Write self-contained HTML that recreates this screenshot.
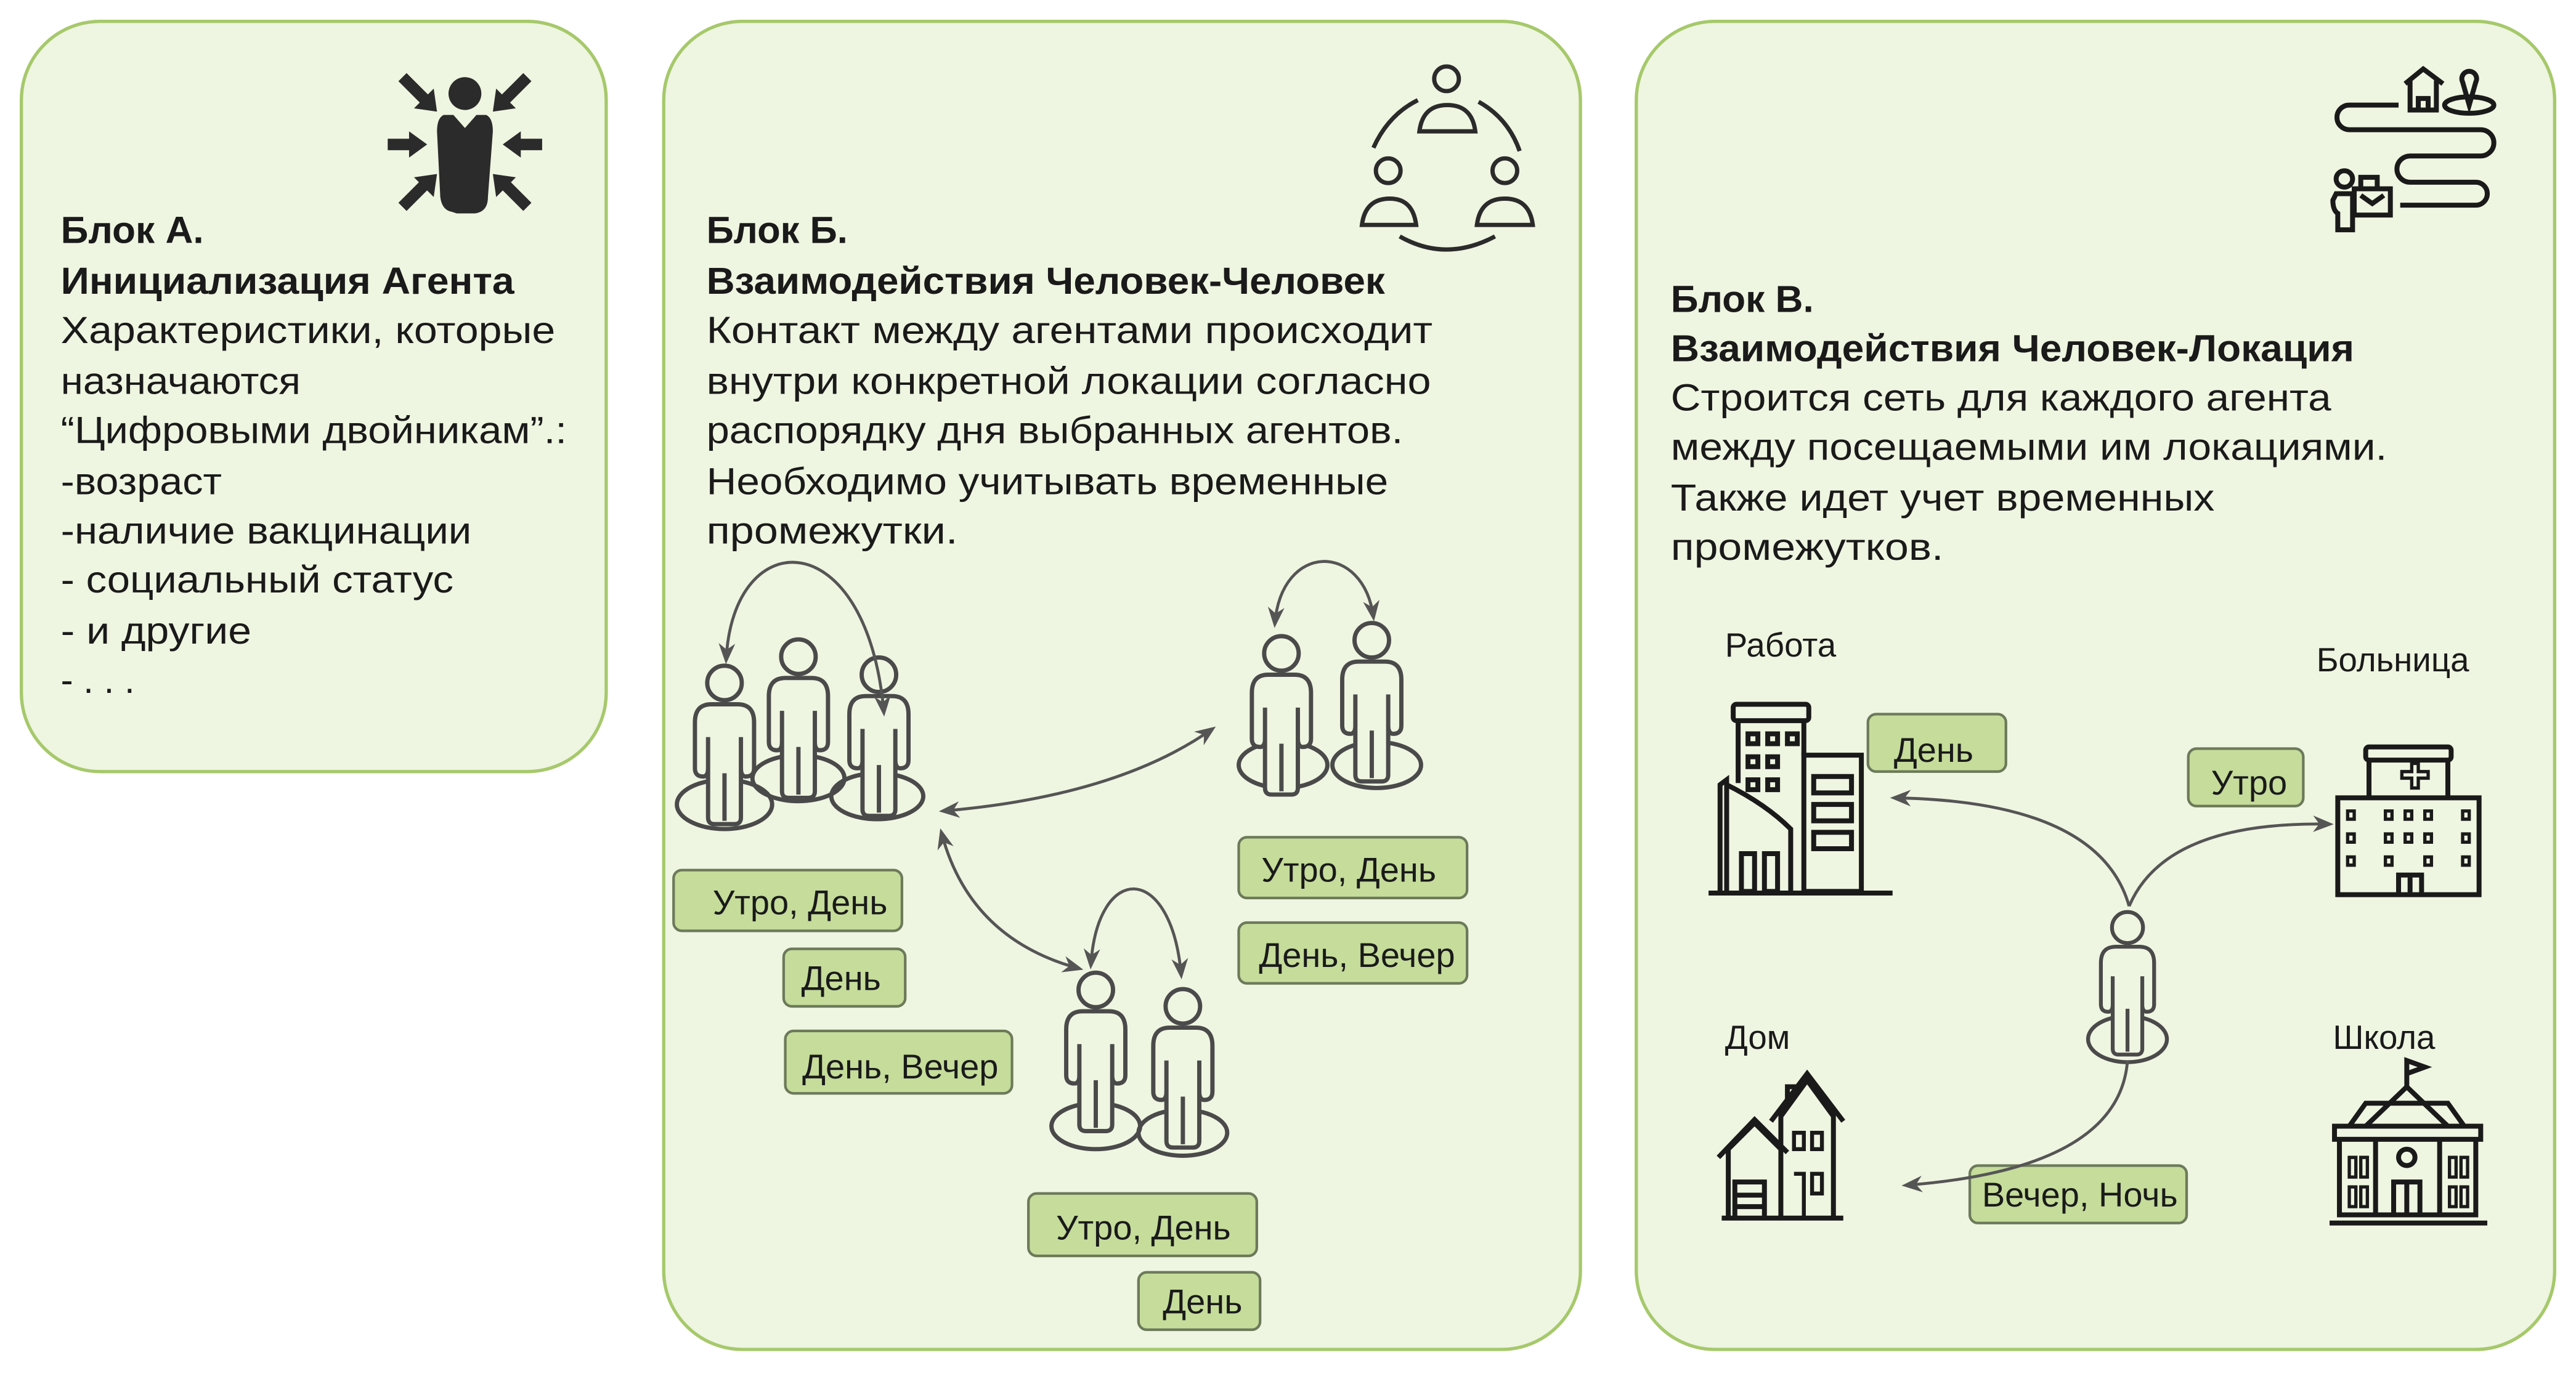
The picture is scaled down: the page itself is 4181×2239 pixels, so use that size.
<!DOCTYPE html>
<html><head><meta charset="utf-8"><style>
html,body{margin:0;padding:0;background:#fff;}
svg{display:block;}
text{font-family:"Liberation Sans","DejaVu Sans",sans-serif;fill:#1a1a1a;}
</style></head><body>
<svg width="4181" height="2239" viewBox="0 0 1568 840" preserveAspectRatio="none" xmlns="http://www.w3.org/2000/svg">
<defs>
<marker id="ah" viewBox="0 0 10 10" refX="8" refY="5" markerWidth="7" markerHeight="7" orient="auto-start-reverse">
<path d="M0,1 L10,5 L0,9 L3,5 Z" fill="#555"/>
</marker>
<g id="p" fill="#eef5e1" stroke="#4a4a4a" stroke-width="2.6" stroke-linejoin="round">
<circle cx="0" cy="0" r="10.5"/>
<path d="M-8,13 H8 Q18,13 18,24 V52 Q18,57 13,57 Q10,57 10,52 V82 Q10,86 6,86 H-6 Q-10,86 -10,82 V52 Q-10,57 -13,57 Q-18,57 -18,52 V24 Q-18,13 -8,13 Z"/>
<path d="M-10,33 V52 M10,33 V52 M0,55 V84" fill="none"/>
</g>
</defs>
<rect width="1568" height="840" fill="#fff"/>
<rect x="13" y="13" width="356" height="457" rx="48" fill="#eef5e1" stroke="#a6c96b" stroke-width="2"/>
<rect x="404" y="13" width="558" height="809" rx="48" fill="#eef5e1" stroke="#a6c96b" stroke-width="2"/>
<rect x="996" y="13" width="559" height="809" rx="48" fill="#eef5e1" stroke="#a6c96b" stroke-width="2"/>

<g fill="#2b2b2b">
<circle cx="283" cy="57" r="10"/>
<path d="M270,70 Q266,72 266,80 L268,120 Q269,128 275,129 L278,130 H289 Q297,129 297,120 L300,80 Q300,72 296,70 L290,70 L283,78 L276,70 Z"/>
</g>
<g stroke="#2b2b2b" stroke-width="7" fill="none">
<path d="M245,47 L259,61 M321,47 L307,61 M236,88 L251,88 M330,88 L315,88 M245,126 L259,112 M321,126 L307,112"/>
</g>
<g fill="#2b2b2b">
<path d="M266,68 L252,66 L264,54 Z"/><path d="M300,68 L314,66 L302,54 Z"/>
<path d="M260,88 L249,80 L249,96 Z"/><path d="M306,88 L317,80 L317,96 Z"/>
<path d="M266,106 L252,108 L264,120 Z"/><path d="M300,106 L314,108 L302,120 Z"/>
</g>

<g font-size="23" lengthAdjust="spacingAndGlyphs">
<text x="37" y="148" font-weight="bold" textLength="87" lengthAdjust="spacingAndGlyphs">Блок А.</text>
<text x="37" y="179" font-weight="bold" textLength="276" lengthAdjust="spacingAndGlyphs">Инициализация Агента</text>
<text x="37" y="209" textLength="301" lengthAdjust="spacingAndGlyphs">Характеристики, которые</text>
<text x="37" y="240" textLength="146" lengthAdjust="spacingAndGlyphs">назначаются</text>
<text x="37" y="270" textLength="308" lengthAdjust="spacingAndGlyphs">“Цифровыми двойникам”.:</text>
<text x="37" y="301" textLength="98" lengthAdjust="spacingAndGlyphs">-возраст</text>
<text x="37" y="331" textLength="250" lengthAdjust="spacingAndGlyphs">-наличие вакцинации</text>
<text x="37" y="361" textLength="239" lengthAdjust="spacingAndGlyphs">- социальный статус</text>
<text x="37" y="392" textLength="116" lengthAdjust="spacingAndGlyphs">- и другие</text>
<text x="37" y="422" textLength="45" lengthAdjust="spacingAndGlyphs">- . . .</text>
</g>

<g fill="none" stroke="#2b2b2b" stroke-width="2.6">
<circle cx="880.5" cy="48" r="7.5"/>
<path d="M864,80 Q866,64 881,64 Q896,64 898,80 Z"/>
<circle cx="845" cy="104" r="7.5"/>
<path d="M829,137 Q831,121 846,121 Q860,121 862,137 Z"/>
<circle cx="916" cy="104" r="7.5"/>
<path d="M899,137 Q901,121 916,121 Q931,121 933,137 Z"/>
<path d="M836,90 Q845,70 863,61"/>
<path d="M900,62 Q918,72 925,92"/>
<path d="M852,144 Q880,160 910,144"/>
</g>

<g font-size="23">
<text x="430" y="148" font-weight="bold" textLength="86" lengthAdjust="spacingAndGlyphs">Блок Б.</text>
<text x="430" y="179" font-weight="bold" textLength="413" lengthAdjust="spacingAndGlyphs">Взаимодействия Человек-Человек</text>
<text x="430" y="209" textLength="442" lengthAdjust="spacingAndGlyphs">Контакт между агентами происходит</text>
<text x="430" y="240" textLength="441" lengthAdjust="spacingAndGlyphs">внутри конкретной локации согласно</text>
<text x="430" y="270" textLength="424" lengthAdjust="spacingAndGlyphs">распорядку дня выбранных агентов.</text>
<text x="430" y="301" textLength="415" lengthAdjust="spacingAndGlyphs">Необходимо учитывать временные</text>
<text x="430" y="331" textLength="153" lengthAdjust="spacingAndGlyphs">промежутки.</text>
</g>

<g fill="none" stroke="#4a4a4a" stroke-width="2.6">
<ellipse cx="441" cy="490" rx="29" ry="15"/>
<ellipse cx="486" cy="474" rx="28" ry="14"/>
<ellipse cx="534" cy="485" rx="28" ry="14"/>
<ellipse cx="781" cy="466" rx="27" ry="14"/>
<ellipse cx="838" cy="466" rx="27" ry="14"/>
<ellipse cx="667" cy="686" rx="27" ry="14"/>
<ellipse cx="720" cy="690" rx="27" ry="14"/>
</g>
<use href="#p" x="441" y="416"/>
<use href="#p" x="486" y="400"/>
<use href="#p" x="535" y="411"/>
<use href="#p" x="780" y="398"/>
<use href="#p" x="835" y="390"/>
<use href="#p" x="667" y="603"/>
<use href="#p" x="720" y="613"/>

<g fill="none" stroke="#555" stroke-width="1.8" marker-start="url(#ah)" marker-end="url(#ah)">
<path d="M442,402 C446,318 528,318 538,434"/>
<path d="M776,380 C780,330 830,330 836,376"/>
<path d="M664,588 C668,525 713,525 719,594"/>
<path d="M574,494 Q680,485 738,444"/>
<path d="M573,507 Q590,572 657,590"/>
</g>

<g fill="#c5dc9b" stroke="#6c7a5a" stroke-width="1.6">
<rect x="410" y="530" width="139" height="37" rx="5"/>
<rect x="477" y="578" width="74" height="35" rx="5"/>
<rect x="478" y="628" width="138" height="38" rx="5"/>
<rect x="754" y="510" width="139" height="37" rx="5"/>
<rect x="754" y="562" width="139" height="37" rx="5"/>
<rect x="626" y="727" width="139" height="38" rx="5"/>
<rect x="693" y="775" width="74" height="35" rx="5"/>
<rect x="1137" y="435" width="84" height="35" rx="5"/>
<rect x="1332" y="456" width="70" height="35" rx="5"/>
<rect x="1199" y="710" width="132" height="35" rx="5"/>
</g>
<g font-size="21" text-anchor="middle">
<text x="487" y="557">Утро, День</text>
<text x="512" y="603">День</text>
<text x="548" y="657">День, Вечер</text>
<text x="821" y="537">Утро, День</text>
<text x="826" y="589">День, Вечер</text>
<text x="696" y="755">Утро, День</text>
<text x="732" y="800">День</text>
<text x="1177" y="464">День</text>
<text x="1369" y="484">Утро</text>
<text x="1266" y="735">Вечер, Ночь</text>
</g>

<g fill="none" stroke="#1a1a1a" stroke-width="3">
<path d="M1460,64 H1430 A7.5,7.5 0 0 0 1430,79 H1510 A8,8 0 0 1 1510,95 H1467 A8,8 0 0 0 1467,111 H1507 A7,7 0 0 1 1507,125 H1461"/>
<path d="M1464,51 L1475,42 L1487,51 M1467,49 V67 H1483 V49 M1472,67 V60 H1478 V67"/>
<ellipse cx="1503" cy="64" rx="15" ry="5"/>
<path d="M1503,64 L1499,50 A4.5,4.5 0 1 1 1507,50 Z"/>
<circle cx="1427" cy="109" r="5"/>
<path d="M1422,118 H1432 V140 H1423 V130 Q1420,128 1420,122 Z"/>
<rect x="1433" y="115" width="22" height="16"/>
<path d="M1437,115 V108 H1447 V115 M1437,119 L1444,124 L1451,119"/>
</g>

<g font-size="23">
<text x="1017" y="190" font-weight="bold" textLength="87" lengthAdjust="spacingAndGlyphs">Блок В.</text>
<text x="1017" y="220" font-weight="bold" textLength="416" lengthAdjust="spacingAndGlyphs">Взаимодействия Человек-Локация</text>
<text x="1017" y="250" textLength="402" lengthAdjust="spacingAndGlyphs">Строится сеть для каждого агента</text>
<text x="1017" y="280" textLength="436" lengthAdjust="spacingAndGlyphs">между посещаемыми им локациями.</text>
<text x="1017" y="311" textLength="331" lengthAdjust="spacingAndGlyphs">Также идет учет временных</text>
<text x="1017" y="341" textLength="166" lengthAdjust="spacingAndGlyphs">промежутков.</text>
</g>
<g font-size="20.5">
<text x="1050" y="400">Работа</text>
<text x="1410" y="409">Больница</text>
<text x="1050" y="639">Дом</text>
<text x="1420" y="639">Школа</text>
</g>

<ellipse cx="1295" cy="633" rx="24" ry="14" fill="none" stroke="#4a4a4a" stroke-width="2.4"/>
<use href="#p" transform="translate(1295,565) scale(0.9)"/>
<g fill="none" stroke="#555" stroke-width="1.8" marker-end="url(#ah)">
<path d="M1296,552 Q1278,488 1153,486"/>
<path d="M1296,552 Q1318,500 1418,502"/>
<path d="M1295,646 Q1290,712 1160,722"/>
</g>

<g fill="none" stroke="#1a1a1a" stroke-width="3">
<rect x="1055" y="429" width="46" height="10" rx="2"/>
<path d="M1058,439 V477 M1098,439 V460"/>
<rect x="1098" y="460" width="35" height="83"/>
<path d="M1104,473 H1127 V483 H1104 Z M1104,490 H1127 V500 H1104 Z M1104,507 H1127 V517 H1104 Z"/>
<path d="M1047,543 V478 L1051,475 V544 M1051,478 Q1075,490 1090,505 V543"/>
<path d="M1060,520 V543 H1068 V520 Z M1074,520 V543 H1082 V520 Z"/>
<path d="M1040,544 H1152"/>
<path d="M1064,447 h6 v6 h-6 z M1076,447 h6 v6 h-6 z M1088,447 h6 v6 h-6 z M1064,461 h6 v6 h-6 z M1076,461 h6 v6 h-6 z M1064,475 h6 v6 h-6 z M1076,475 h6 v6 h-6 z"/>
<rect x="1440" y="455" width="52" height="8" rx="2"/>
<path d="M1442,463 V486 M1490,463 V486"/>
<path d="M1423,545 V486 H1509 V545 Z"/>
<path d="M1462,470 h6 v-5 h4 v5 h6 v4 h-6 v6 h-4 v-6 h-6 z" stroke-width="2"/>
<path d="M1429,494 h4 v5 h-4z M1429,508 h4 v5 h-4z M1429,522 h4 v5 h-4z M1499,494 h4 v5 h-4z M1499,508 h4 v5 h-4z M1499,522 h4 v5 h-4z M1452,494 h4 v5 h-4z M1464,494 h4 v5 h-4z M1476,494 h4 v5 h-4z M1452,508 h4 v5 h-4z M1464,508 h4 v5 h-4z M1476,508 h4 v5 h-4z M1452,522 h4 v5 h-4z M1476,522 h4 v5 h-4z" stroke-width="2"/>
<path d="M1460,545 V533 H1474 V545 M1467,533 V545"/>
<path d="M1048,742 H1122 M1052,742 V700 L1068,684 L1084,700 M1046,705 L1068,682 L1088,702"/>
<path d="M1084,742 V680 L1100,658 L1116,680 V742 M1078,683 L1100,654 L1122,683"/>
<path d="M1056,742 V720 H1074 V742 M1056,728 H1074 M1056,735 H1074"/>
<path d="M1092,690 h6 v10 h-6z M1103,690 h6 v10 h-6z M1092,715 h6 v27 M1103,715 h6 v12 h-6z" stroke-width="2.4"/>
<path d="M1088,672 V662 h5 v4"/>
<path d="M1465,662 V646 L1476,650 L1465,654"/>
<path d="M1440,686 L1465,662 L1490,686 M1430,686 L1440,672 H1490 L1500,686"/>
<rect x="1421" y="686" width="89" height="8"/>
<path d="M1424,694 V740 H1507 V694 M1446,694 V740 M1485,694 V740"/>
<circle cx="1465" cy="705" r="5"/>
<path d="M1457,740 V720 H1473 V740 M1465,720 V740"/>
<path d="M1430,705 h4 v12 h-4z M1437,705 h4 v12 h-4z M1491,705 h4 v12 h-4z M1498,705 h4 v12 h-4z M1430,723 h4 v12 h-4z M1437,723 h4 v12 h-4z M1491,723 h4 v12 h-4z M1498,723 h4 v12 h-4z" stroke-width="2"/>
<path d="M1418,745 H1514"/>
</g>
</svg>
</body></html>
